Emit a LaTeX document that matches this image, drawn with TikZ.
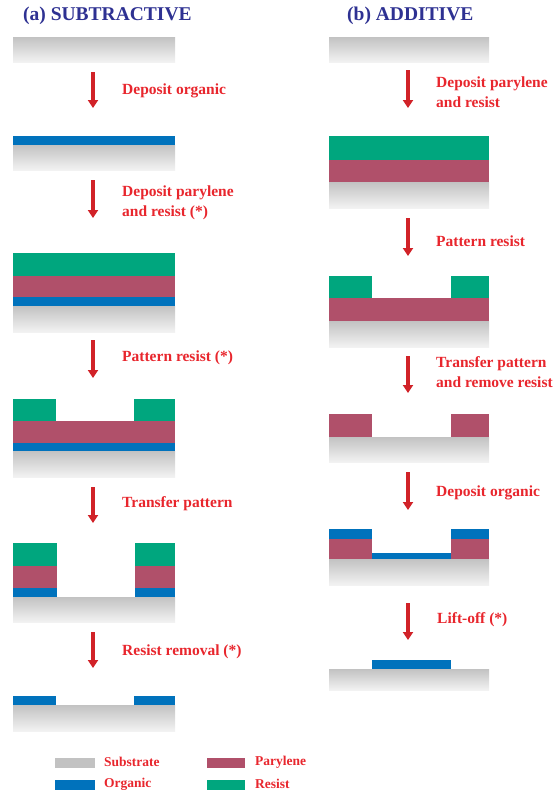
\documentclass[tikz,border=0pt]{standalone}
\usepackage{fontspec}
\setmainfont{Liberation Serif}
\usetikzlibrary{arrows.meta}

\definecolor{organic}{HTML}{0072BC}
\definecolor{parylene}{HTML}{B0506A}
\definecolor{resist}{HTML}{00A67E}
\definecolor{substr}{HTML}{C2C2C2}
\definecolor{steptext}{HTML}{E8262D}
\definecolor{titleblue}{HTML}{2E3192}

\tikzset{
	stepline/.style={draw=steptext!90!black, line width=3.2pt, -{Triangle[length=8pt,width=10pt]}},
	steplabel/.style={text=steptext, font=\fontsize{15.5}{20}\selectfont\bfseries, anchor=base west, align=left, inner sep=0pt},
	paneltitle/.style={text=titleblue, font=\fontsize{19.5}{21}\selectfont\bfseries, anchor=west, inner sep=0pt},
	legendlabel/.style={text=steptext, font=\fontsize{13.5}{15}\selectfont\bfseries, anchor=west, inner sep=0pt}
}

% layer: colour, x1, y1, x2, y2
\newcommand{\layer}[5]{\fill[#1] (#2,#3) rectangle (#4,#5);}
% substrate with its fading grey
\newcommand{\substrate}[4]{\shade[top color=substr, bottom color=white!95!black] (#1,#2) rectangle (#3,#4);}

\begin{document}
\begin{tikzpicture}[x=1pt,y=-1pt]
		\useasboundingbox (0,0) rectangle (555,793);

		% titles
		\node[paneltitle] (ta) at (23,16) {(a) SUBTRACTIVE};
		\node[paneltitle] (tb) at (347,16) {(b) ADDITIVE};

		% (a) subtractive
		\begin{scope}
			\substrate{13}{37}{175}{62}

			\coordinate (a1s) at (93,72);
			\coordinate (a1e) at (93,108);
			\draw[stepline] (a1s) -- (a1e);
			\node[steplabel] (la1) at (122,94) {Deposit organic};

			\layer{organic}{13}{136}{175}{145}
			\substrate{13}{145}{175}{170}

			\coordinate (a2s) at (93,180);
			\coordinate (a2e) at (93,218);
			\draw[stepline] (a2s) -- (a2e);
			\node[steplabel] (la2) at (122,216) {Deposit parylene\\and resist (*)};

			\layer{resist}{13}{253}{175}{276}
			\layer{parylene}{13}{276}{175}{297}
			\layer{organic}{13}{297}{175}{306}
			\substrate{13}{306}{175}{332}

			\coordinate (a3s) at (93,340);
			\coordinate (a3e) at (93,378);
			\draw[stepline] (a3s) -- (a3e);
			\node[steplabel] (la3) at (122,361) {Pattern resist (*)};

			\layer{resist}{13}{399}{56}{421}
			\layer{resist}{134}{399}{175}{421}
			\layer{parylene}{13}{421}{175}{443}
			\layer{organic}{13}{443}{175}{451}
			\substrate{13}{451}{175}{477}

			\coordinate (a4s) at (93,487);
			\coordinate (a4e) at (93,523);
			\draw[stepline] (a4s) -- (a4e);
			\node[steplabel] (la4) at (122,507) {Transfer pattern};

			\layer{resist}{13}{543}{57}{566}
			\layer{resist}{135}{543}{175}{566}
			\layer{parylene}{13}{566}{57}{588}
			\layer{parylene}{135}{566}{175}{588}
			\layer{organic}{13}{588}{57}{597}
			\layer{organic}{135}{588}{175}{597}
			\substrate{13}{597}{175}{622}

			\coordinate (a5s) at (93,632);
			\coordinate (a5e) at (93,668);
			\draw[stepline] (a5s) -- (a5e);
			\node[steplabel] (la5) at (122,655) {Resist removal (*)};

			\layer{organic}{13}{696}{56}{705}
			\layer{organic}{134}{696}{175}{705}
			\substrate{13}{705}{175}{731}
		\end{scope}

		% (b) additive
		\begin{scope}
			\substrate{329}{37}{489}{62}

			\coordinate (b1s) at (408,70);
			\coordinate (b1e) at (408,108);
			\draw[stepline] (b1s) -- (b1e);
			\node[steplabel] (lb1) at (436,107) {Deposit parylene\\and resist};

			\layer{resist}{329}{136}{489}{160}
			\layer{parylene}{329}{160}{489}{182}
			\substrate{329}{182}{489}{208}

			\coordinate (b2s) at (408,218);
			\coordinate (b2e) at (408,256);
			\draw[stepline] (b2s) -- (b2e);
			\node[steplabel] (lb2) at (436,246) {Pattern resist};

			\layer{resist}{329}{276}{372}{298}
			\layer{resist}{451}{276}{489}{298}
			\layer{parylene}{329}{298}{489}{321}
			\substrate{329}{321}{489}{347}

			\coordinate (b3s) at (408,356);
			\coordinate (b3e) at (408,393);
			\draw[stepline] (b3s) -- (b3e);
			\node[steplabel] (lb3) at (436,387) {Transfer pattern\\and remove resist};

			\layer{parylene}{329}{414}{372}{437}
			\layer{parylene}{451}{414}{489}{437}
			\substrate{329}{437}{489}{462}

			\coordinate (b4s) at (408,472);
			\coordinate (b4e) at (408,510);
			\draw[stepline] (b4s) -- (b4e);
			\node[steplabel] (lb4) at (436,496) {Deposit organic};

			\layer{organic}{329}{529}{372}{539}
			\layer{organic}{451}{529}{489}{539}
			\layer{parylene}{329}{539}{372}{559}
			\layer{parylene}{451}{539}{489}{559}
			\layer{organic}{372}{553}{451}{559}
			\substrate{329}{559}{489}{585}

			\coordinate (b5s) at (408,603);
			\coordinate (b5e) at (408,640);
			\draw[stepline] (b5s) -- (b5e);
			\node[steplabel] (lb5) at (437,623) {Lift-off (*)};

			\layer{organic}{372}{660}{451}{669}
			\substrate{329}{669}{489}{690}
		\end{scope}

		% legend
		\layer{substr}{55}{758}{95}{768}
		\node[legendlabel] (ksub) at (104,762) {Substrate};
		\layer{organic}{55}{780}{95}{790}
		\node[legendlabel] (korg) at (104,784) {Organic};
		\layer{parylene}{207}{758}{245}{768}
		\node[legendlabel] (kpar) at (255,762) {Parylene};
		\layer{resist}{207}{780}{245}{790}
		\node[legendlabel] (kres) at (255,784) {Resist};
	\end{tikzpicture}
\end{document}
